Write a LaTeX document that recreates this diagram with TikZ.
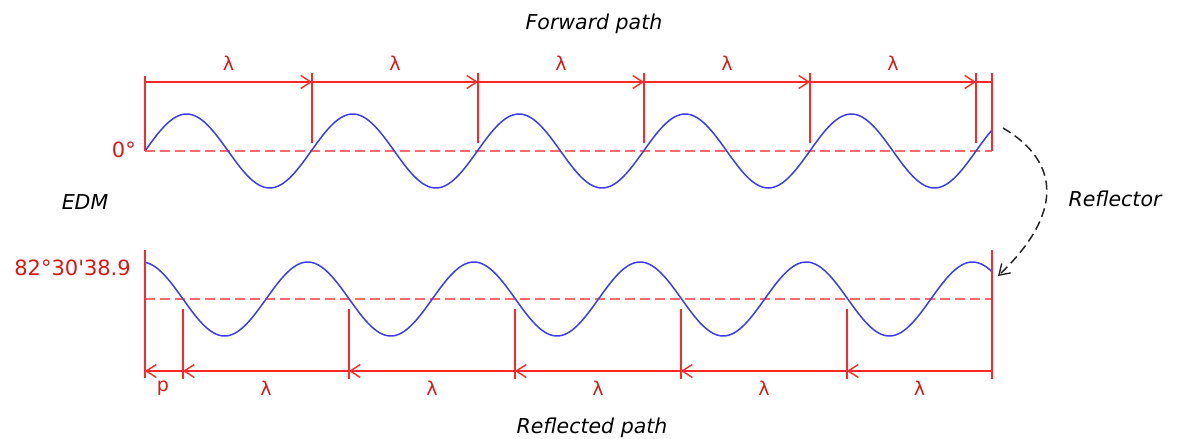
\documentclass[tikz,border=0pt]{standalone}
\usepackage{fontspec}
\setmainfont{DejaVu Sans}[Ligatures=TeXOff]
\usetikzlibrary{arrows.meta,calc}
\definecolor{dimred}{RGB}{255,40,40}
\definecolor{txtred}{RGB}{215,25,25}
\definecolor{waveblue}{RGB}{60,60,240}
\tikzset{
  tipbarb/.tip={Straight Barb[length=10pt,width=13pt,line width=1.4pt]},
  dimline/.style={dimred, line width=1.4pt},
  dimarrow/.style={dimred, line width=1.4pt, -tipbarb},
  refline/.style={dimred!70, line width=1.1pt, dash pattern=on 10pt off 5pt},
  wave/.style={waveblue, line width=1.5pt},
  lam/.style={txtred, font=\fontsize{19}{19}\selectfont, inner sep=0pt},
  title/.style={font=\fontsize{20.5}{20.5}\selectfont\itshape, inner sep=0pt},
  redlabel/.style={txtred, font=\fontsize{21}{21}\selectfont, inner sep=0pt}
}
\begin{document}
\begin{tikzpicture}[x=1pt,y=-1pt]
\useasboundingbox (0,0) rectangle (1178,439);
% ---------- forward path ----------
\draw[refline] (145,151) -- (992,151);
\draw[wave] plot[domain=145:992, samples=300, smooth] (\x, {151-37*sin(2.16606*(\x-145))});
\draw[dimline] (145,76) -- (145,151);
\draw[dimline] (992,73) -- (992,151);
\foreach \i/\xx in {1/312,2/478,3/644,4/810,5/976}{
  \coordinate (t\i) at (\xx,82);
  \draw[dimline] (\xx,73) -- (\xx,143);
}
\coordinate (t0) at (145,82);
\coordinate (tend) at (992,82);
\foreach \a/\b in {t0/t1,t1/t2,t2/t3,t3/t4,t4/t5}{
  \draw[dimarrow] (\a) -- (\b);
  \node[lam] (lab\b) at ($(\a)!0.5!(\b)+(0,-19)$) {λ};
}
\draw[dimline] (t5) -- (tend);
% ---------- reflected path ----------
\draw[refline] (145,299) -- (992,299);
\draw[wave] plot[domain=145:992, samples=300, smooth] (\x, {299+37*sin(2.16606*(\x-183))});
\draw[dimline] (145,250) -- (145,378);
\draw[dimline] (992,250) -- (992,379);
\foreach \i/\xx in {1/183,2/349,3/515,4/681,5/847}{
  \coordinate (b\i) at (\xx,371);
  \draw[dimline] (\xx,309) -- (\xx,379);
}
\coordinate (b0) at (145,371);
\coordinate (bend) at (992,371);
\draw[dimarrow] (b1) -- (b0);
\node[lam] (labp) at (163,388) {p};
\foreach \a/\b in {b1/b2,b2/b3,b3/b4,b4/b5}{
  \draw[dimarrow] (\b) -- (\a);
  \node[lam] (lab\b) at ($(\a)!0.5!(\b)+(0,17)$) {λ};
}
\draw[dimarrow] (bend) -- (b5);
\node[lam] (labend) at (919.5,388) {λ};
% ---------- texts ----------
\node[title] (fwd) at (594,24) {Forward path};
\node[title] (refl) at (592,428) {Reflected path};
\node[title] (edm) at (85,202) {EDM};
\node[title] (reflector) at (1115,199) {Reflector};
\node[redlabel, anchor=east] (zero) at (136,150) {0°};
\node[redlabel, anchor=east] (phase) at (131,268) {82°30'38.9};
% ---------- reflection arrow ----------
\coordinate (rs) at (1003,128);
\coordinate (re) at (998,276);
\draw[black!85, line width=1.5pt, dash pattern=on 9pt off 5pt, -tipbarb]
  (rs) .. controls (1062,163) and (1062,215) .. (re);
\end{tikzpicture}
\end{document}
